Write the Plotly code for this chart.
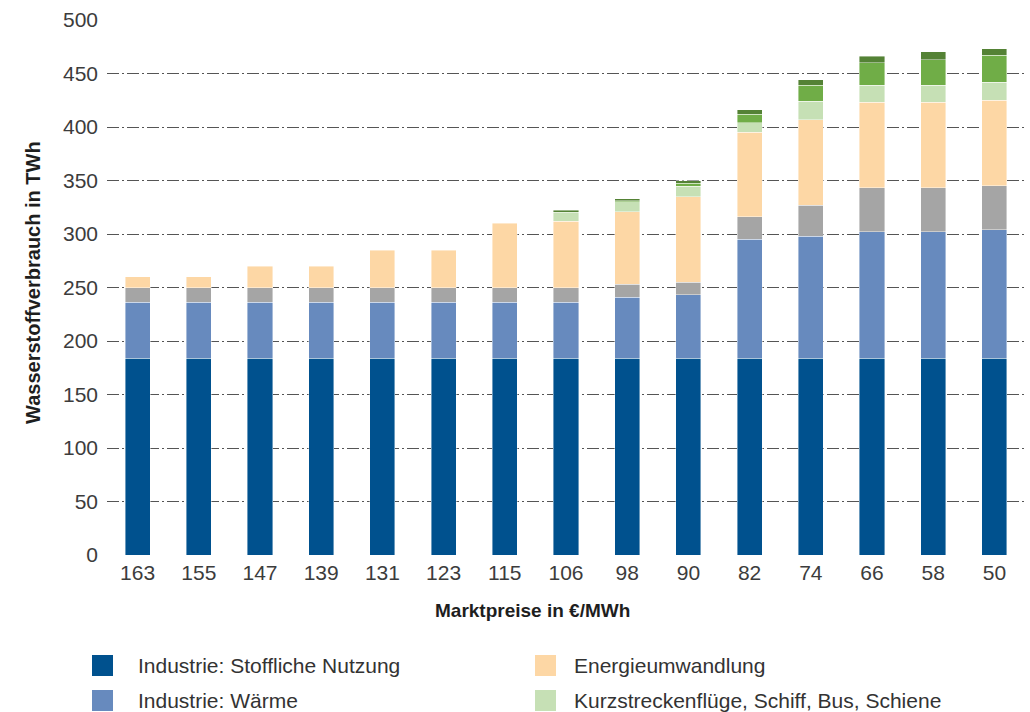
import plotly.graph_objects as go

# ---- data ----
preise = ["163", "155", "147", "139", "131", "123", "115", "106", "98", "90", "82", "74", "66", "58", "50"]
stoffliche_nutzung = [184, 184, 184, 184, 184, 184, 184, 184, 184, 184, 184, 184, 184, 184, 184]
waerme = [52, 52, 52, 52, 52, 52, 52, 52, 57, 59, 111, 114, 118, 118, 120]
weitere = [14, 14, 14, 14, 14, 14, 14, 14, 12, 12, 21, 29, 41, 41, 41]
energieumwandlung = [10, 10, 20, 20, 35, 35, 60, 62, 68, 80, 79, 80, 80, 80, 80]
kurzstrecke = [None, None, None, None, None, None, None, 8, 9, 9.5, 9, 17, 16, 16, 17]
verkehr_a = [None, None, None, None, None, None, None, 0.5, 1, 3, 8, 15, 21, 24, 25]
verkehr_b = [None, None, None, None, None, None, None, 1.5, 2, 2.5, 4, 5, 6, 7.5, 6]

series = [
    ("Industrie: Stoffliche Nutzung", stoffliche_nutzung, "#00518E"),
    ("Industrie: Wärme", waerme, "#678ABE"),
    ("Weitere Nutzung", weitere, "#A5A5A5"),
    ("Energieumwandlung", energieumwandlung, "#FDD7A5"),
    ("Kurzstreckenflüge, Schiff, Bus, Schiene", kurzstrecke, "#C6E0B5"),
    ("Weiterer Verkehr 1", verkehr_a, "#70AD47"),
    ("Weiterer Verkehr 2", verkehr_b, "#548235"),
]

# visible legend entries (two columns, as in the reference)
legend_order = ["Industrie: Stoffliche Nutzung", "Energieumwandlung",
                "Industrie: Wärme", "Kurzstreckenflüge, Schiff, Bus, Schiene"]

TICK_FONT = dict(family="Liberation Sans, Arial, sans-serif", size=21, color="#3C3C3C")

fig = go.Figure()
for name, vals, color in series:
    fig.add_trace(go.Bar(
        x=preise, y=vals, name=name, showlegend=False,
        marker=dict(color=color, line=dict(color="rgba(255,255,255,0.7)", width=0.6)),
    ))

# plot geometry in pixels (for placing the manual legend / titles)
W, H = 1030, 712
L, R, T, B = 107, 5, 20, 157
pw, ph = W - L - R, H - T - B

def px_x(px):
    return (px - L) / pw

def px_y(py):
    return (H - B - py) / ph

shapes = []
annotations = []
sym_x = [92, 535]
txt_x = [136, 572]
row_y = [665.5, 700.5]
colors = {n: c for n, _, c in series}
for i, name in enumerate(legend_order):
    col, row = i % 2, i // 2
    cy = row_y[row]
    shapes.append(dict(type="rect", xref="paper", yref="paper",
                       x0=px_x(sym_x[col]), x1=px_x(sym_x[col] + 21),
                       y0=px_y(cy - 10.5), y1=px_y(cy + 10.5),
                       fillcolor=colors[name], line=dict(width=0)))
    annotations.append(dict(xref="paper", yref="paper", x=px_x(txt_x[col]), y=px_y(cy),
                            xanchor="left", yanchor="middle", showarrow=False, text=name,
                            font=dict(family="Liberation Sans, Arial, sans-serif", size=21, color="#333333")))

annotations.append(dict(xref="paper", yref="paper", x=px_x(532), y=px_y(610),
                        xanchor="center", yanchor="middle", showarrow=False,
                        text="<b>Marktpreise in €/MWh</b>",
                        font=dict(family="Liberation Sans, Arial, sans-serif", size=19, color="#1E1E1E")))
annotations.append(dict(xref="paper", yref="paper", x=px_x(33), y=px_y(283),
                        xanchor="center", yanchor="middle", showarrow=False, textangle=-90,
                        text="<b>Wasserstoffverbrauch in TWh</b>",
                        font=dict(family="Liberation Sans, Arial, sans-serif", size=20, color="#1E1E1E")))

fig.update_layout(
    barmode="stack",
    bargap=0.59,
    width=W, height=H,
    margin=dict(l=L, r=R, t=T, b=B, pad=0),
    paper_bgcolor="white", plot_bgcolor="white",
    showlegend=False,
    shapes=shapes,
    annotations=annotations,
    xaxis=dict(type="category", tickfont=TICK_FONT, showgrid=False, showline=False,
               zeroline=False, ticks="", ticklabelstandoff=3),
    yaxis=dict(range=[0, 500], dtick=50, tickfont=TICK_FONT, showgrid=True,
               gridcolor="#555555", gridwidth=1.2, griddash="12px,3px,2px,3px",
               zeroline=False, showline=False, ticks="", ticklabelstandoff=8),
)

fig.write_html("out.html")
